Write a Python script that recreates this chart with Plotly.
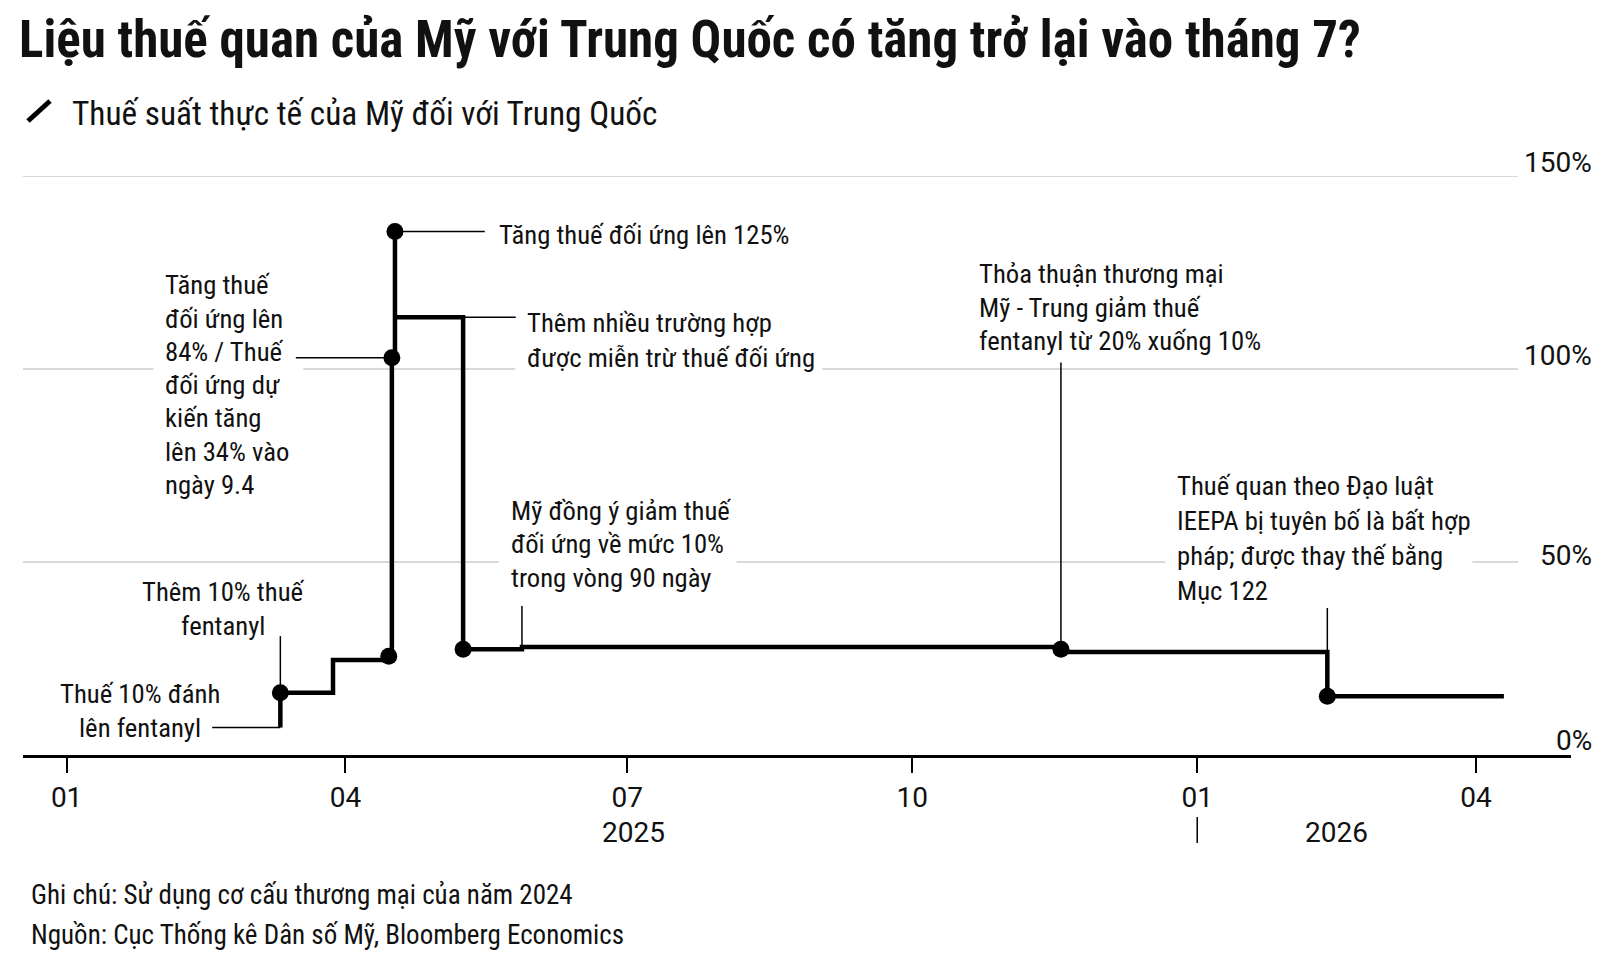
import plotly.graph_objects as go

# ---------------- data ----------------
step_dates = ["2025-03-11", "2025-03-11", "2025-03-28", "2025-04-16", "2025-04-16",
              "2025-04-17", "2025-04-17", "2025-05-09", "2025-05-28", "2025-11-18",
              "2026-02-12", "2026-04-10"]
step_values = [7.1, 16.1, 24.6, 24.6, 102.9, 135.6, 113.4, 27.4, 28.0, 26.7, 15.2, 15.2]

event_dates = ["2025-03-11", "2025-04-15", "2025-04-16", "2025-04-17", "2025-05-09",
               "2025-11-18", "2026-02-12"]
event_values = [16.1, 25.6, 102.9, 135.6, 27.4, 27.4, 15.2]

x_tick_dates = ["2025-01-01", "2025-04-01", "2025-07-01", "2025-10-01", "2026-01-01", "2026-04-01"]
x_tick_labels = ["01", "04", "07", "10", "01", "04"]
year_labels = ["2025", "2026"]
year_label_dates = ["2025-07-03", "2026-02-15"]
year_divider_date = "2026-01-01"

y_tick_values = [0, 50, 100, 150]
y_tick_labels = ["0%", "50%", "100%", "150%"]

title_text = "Liệu thuế quan của Mỹ với Trung Quốc có tăng trở lại vào tháng 7?"
legend_text = "Thuế suất thực tế của Mỹ đối với Trung Quốc"
note_lines = ["Ghi chú: Sử dụng cơ cấu thương mại của năm 2024",
              "Nguồn: Cục Thống kê Dân số Mỹ, Bloomberg Economics"]

# annotation texts
ann_texts = [
    ["Thuế 10% đánh", "lên fentanyl"],
    ["Thêm 10% thuế", "fentanyl"],
    ["Tăng thuế", "đối ứng lên", "84% / Thuế", "đối ứng dự", "kiến tăng", "lên 34% vào", "ngày 9.4"],
    ["Tăng thuế đối ứng lên 125%"],
    ["Thêm nhiều trường hợp", "được miễn trừ thuế đối ứng"],
    ["Mỹ đồng ý giảm thuế", "đối ứng về mức 10%", "trong vòng 90 ngày"],
    ["Thỏa thuận thương mại", "Mỹ - Trung giảm thuế", "fentanyl từ 20% xuống 10%"],
    ["Thuế quan theo Đạo luật", "IEEPA bị tuyên bố là bất hợp", "pháp; được thay thế bằng", "Mục 122"],
]

# leader lines (connector from text to event): (x0, y0, x1, y1) in data units
leaders = [
    ("2025-02-17", 7.1, "2025-03-11", 7.1),
    ("2025-03-11", 16.1, "2025-03-11", 30.8),
    ("2025-03-16", 102.9, "2025-04-16", 102.9),
    ("2025-04-17", 135.6, "2025-05-16", 135.6),
    ("2025-05-09", 113.4, "2025-05-26", 113.4),
    ("2025-05-28", 28.0, "2025-05-28", 38.6),
    ("2025-11-18", 27.4, "2025-11-18", 101.7),
    ("2026-02-12", 26.7, "2026-02-12", 38.1),
]

# ---------------- layout geometry (pixels) ----------------
W, H = 1621, 970
L, R, T, B = 23, 50, 176, 215
PW, PH = W - L - R, H - T - B


def px_x(px):
    return (px - L) / PW


def px_y(py):
    return (H - B - py) / PH


NARROW = "Liberation Sans Narrow, Arial Narrow, Roboto Condensed, sans-serif"
REG = "Roboto, Inter, sans-serif"
INK = "#111111"
ANN_SIZE = 26.7

# text block placement: (x px, first line center y px, line spacing, anchor, block width, white bg)
ann_pos = [
    (139.6, 693.7, 34.0, "center", 160, False),
    (223.3, 592.4, 34.0, "center", 165, False),
    (163.3, 285.3, 33.27, "left", 130, True),
    (497.3, 234.7, 0, "left", 285, False),
    (525.2, 322.5, 35.2, "left", 287, True),
    (508.6, 510.7, 33.6, "left", 218, True),
    (977.0, 274.0, 33.6, "left", 283, False),
    (1175.4, 486.0, 35.0, "left", 287, True),
]

fig = go.Figure()

fig.add_trace(go.Scatter(
    x=step_dates, y=step_values, mode="lines",
    line=dict(shape="hv", width=4.5, color="black"),
    hoverinfo="skip", showlegend=False, cliponaxis=False,
))
fig.add_trace(go.Scatter(
    x=event_dates, y=event_values, mode="markers",
    marker=dict(size=17, color="black"),
    hoverinfo="skip", showlegend=False, cliponaxis=False,
))

shapes = []
# gridlines
for v in y_tick_values[1:]:
    shapes.append(dict(type="line", xref="paper", yref="y", x0=0, x1=px_x(1518),
                       y0=v, y1=v, line=dict(color="#cccccc", width=1.5), layer="below"))
# white boxes behind some text blocks
for lines, (ax, ay, dy, anc, bw, bg) in zip(ann_texts, ann_pos):
    if not bg:
        continue
    left = ax - 10 if anc == "left" else ax - bw / 2 - 10
    right = left + bw + 20
    top = ay - 20
    bottom = ay + (len(lines) - 1) * dy + 20
    shapes.append(dict(type="rect", xref="paper", yref="paper",
                       x0=px_x(left), x1=px_x(right), y0=px_y(bottom), y1=px_y(top),
                       fillcolor="white", line=dict(width=0), layer="below"))
# leaders
for x0, y0, x1, y1 in leaders:
    shapes.append(dict(type="line", xref="x", yref="y", x0=x0, y0=y0, x1=x1, y1=y1,
                       line=dict(color="black", width=1.5), layer="below"))
# year divider
shapes.append(dict(type="line", xref="x", yref="paper", x0=year_divider_date, x1=year_divider_date,
                   y0=px_y(843), y1=px_y(817), line=dict(color="black", width=1.5)))
# legend icon
shapes.append(dict(type="line", xref="paper", yref="paper",
                   x0=px_x(28), y0=px_y(121), x1=px_x(50), y1=px_y(101),
                   line=dict(color="black", width=5)))

annotations = []
for lines, (ax, ay, dy, anc, bw, bg) in zip(ann_texts, ann_pos):
    for i, line in enumerate(lines):
        annotations.append(dict(
            x=px_x(ax), y=px_y(ay + i * dy), xref="paper", yref="paper",
            text=line, showarrow=False, xanchor=anc, yanchor="middle", align=anc,
            font=dict(family=NARROW, size=ANN_SIZE, color=INK)))

# y tick labels (right side, sitting just above gridlines)
y_label_shift = [15, 7, 14, 14]
for v, lab, sh in zip(y_tick_values, y_tick_labels, y_label_shift):
    annotations.append(dict(x=px_x(1594), y=v, xref="paper", yref="y", yshift=sh,
                            text=lab, showarrow=False, xanchor="right", yanchor="middle",
                            font=dict(family=REG, size=28, color=INK)))

# year labels
for d, lab in zip(year_label_dates, year_labels):
    annotations.append(dict(x=d, y=px_y(832), xref="x", yref="paper", text=lab,
                            showarrow=False, xanchor="center", yanchor="middle",
                            font=dict(family=REG, size=28, color=INK)))

# legend text
annotations.append(dict(x=px_x(70), y=px_y(113.7), xref="paper", yref="paper",
                        text=legend_text, showarrow=False, xanchor="left", yanchor="middle",
                        font=dict(family=NARROW, size=33.3, color=INK)))
# notes
for i, t in enumerate(note_lines):
    annotations.append(dict(x=px_x(29), y=px_y(895 + i * 39.6), xref="paper", yref="paper",
                            text=t, showarrow=False, xanchor="left", yanchor="middle",
                            font=dict(family=NARROW, size=27, color=INK)))

fig.update_layout(
    width=W, height=H,
    margin=dict(l=L, r=R, t=T, b=B),
    paper_bgcolor="white", plot_bgcolor="white",
    title=dict(text=title_text, x=19 / W, xanchor="left", xref="container",
               y=1 - 39 / H, yanchor="middle", yref="container",
               font=dict(family=NARROW, size=51, color=INK, weight=700)),
    xaxis=dict(type="date", range=["2024-12-17 22:00", "2026-05-01 16:00"],
               tickmode="array", tickvals=x_tick_dates, ticktext=x_tick_labels,
               ticks="outside", ticklen=15, tickwidth=1.5, tickcolor="black",
               showline=True, linewidth=3, linecolor="black",
               showgrid=False, zeroline=False,
               tickfont=dict(family=REG, size=28, color=INK), fixedrange=True),
    yaxis=dict(range=[0, 150], showgrid=False, zeroline=False, showticklabels=False,
               showline=False, fixedrange=True),
    shapes=shapes, annotations=annotations, showlegend=False,
)

fig.write_html("out.html", config=dict(displayModeBar=False),
               post_script="document.body.style.margin='0';document.body.style.overflow='hidden';")
